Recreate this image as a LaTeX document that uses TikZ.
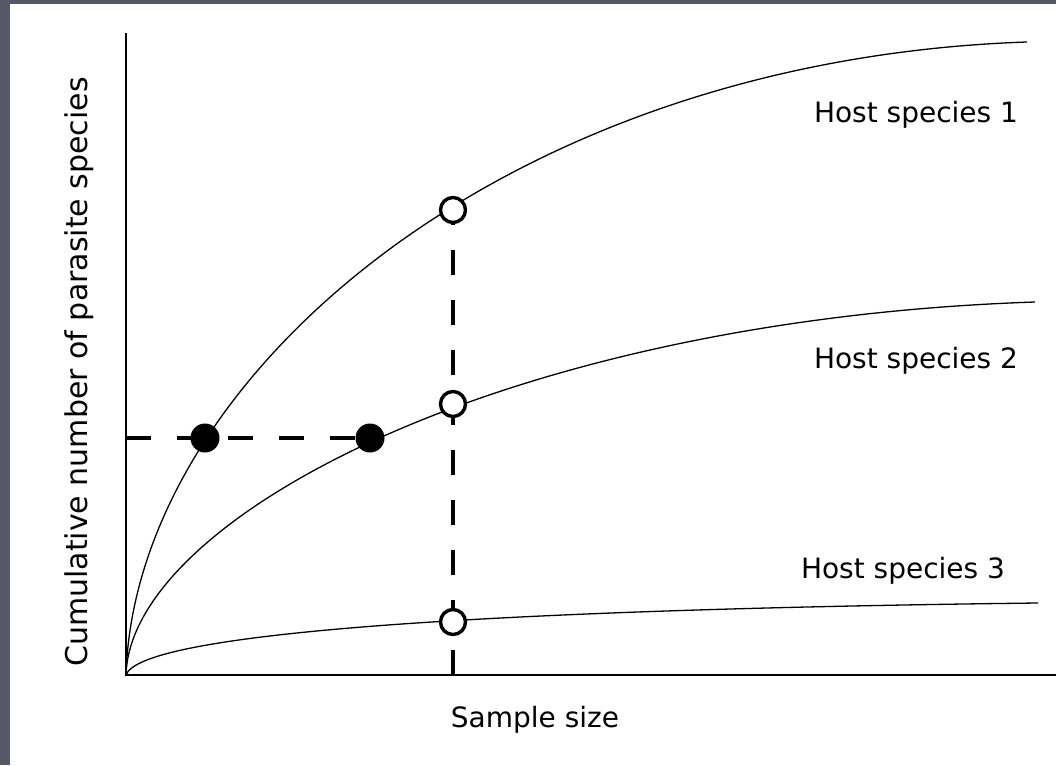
\documentclass[tikz,border=0pt]{standalone}
\usepackage{fontspec}
\setmainfont{DejaVu Sans}
\usetikzlibrary{backgrounds}
\definecolor{panelgray}{RGB}{86,88,104}
\tikzset{every picture/.style={line width=0.75pt}}
\tikzset{
  opendot/.style={circle, draw, line width=3.4pt, fill=white, minimum size=25pt, inner sep=0pt},
  filldot/.style={circle, fill=black, minimum size=29pt, inner sep=0pt},
  guide/.style={line width=3.4pt, dash pattern=on 25pt off 25pt},
  axisline/.style={line width=2.6pt},
  hostcurve/.style={line width=1.3pt},
  lbl/.style={font=\fontsize{28}{33}\selectfont, inner sep=0pt}
}

\begin{document}
\begin{tikzpicture}[x=1pt,y=1pt,yscale=-1,xscale=1]
    \useasboundingbox (0,0) rectangle (1056,765);

    %Points on the curves
    \node [filldot] (f1) at (205,438) {};
    \node [filldot] (f2) at (370,438) {};
    \node [opendot] (s1) at (453,210) {};
    \node [opendot] (s2) at (453,404) {};
    \node [opendot] (s3) at (453,622) {};

    %Axes ends
    \coordinate (O) at (126,675);
    \coordinate (ytop) at (126,33);
    \coordinate (xend) at (1056,675);
    \coordinate (yref) at (126,438);
    \coordinate (xref) at (453,675);
    \coordinate (end1) at (1027,42);
    \coordinate (end2) at (1035,302);
    \coordinate (end3) at (1038,603);

    \begin{pgfonlayer}{background}
    %Shape: Frame
    \fill [panelgray] (0,0) rectangle (1056,765);
    \fill [white] (10,4) rectangle (1056,765);
    %Dashed guides
    \draw [guide, dash pattern=on 25pt off 26pt] (yref) -- (f2.center);
    \draw [guide] (xref) -- (s1.center);
    %Curves
    \draw [hostcurve] (O) .. controls (135,380) and (500,60) .. (end1);
    \draw [hostcurve] (O) .. controls (130,520) and (500,320) .. (end2);
    \draw [hostcurve] (O) .. controls (140,635) and (450,610) .. (end3);
    %Axes
    \draw [axisline] (ytop) -- (O) -- (xend);
    \end{pgfonlayer}

    % Text Node
    \node [lbl, anchor=base] (h1) at (916,122) {Host species 1};
    % Text Node
    \node [lbl, anchor=base] (h2) at (916,368) {Host species 2};
    % Text Node
    \node [lbl, anchor=base] (h3) at (903,578) {Host species 3};
    % Text Node
    \node [lbl, anchor=base] (xlab) at (535,727) {Sample size};
    % Text Node
    \node [lbl, anchor=base, rotate=90, font=\fontsize{30}{35}\selectfont] (ylab) at (87,372) {Cumulative number of parasite species};

\end{tikzpicture}
\end{document}
